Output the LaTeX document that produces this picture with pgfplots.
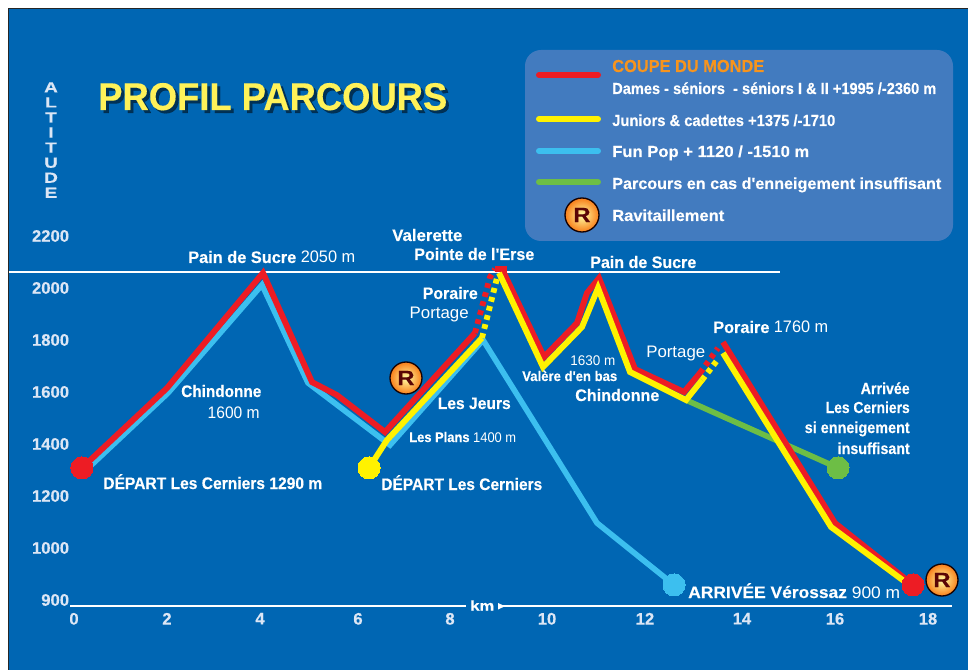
\documentclass[border=0pt]{standalone}
\usepackage{graphicx}
\usepackage{fontspec}
\setmainfont{Liberation Sans}[Ligatures=TeXOff,BoldFeatures={FakeBold=0.25}]
\usepackage{pgfplots}
\pgfplotsset{compat=1.18}
\definecolor{bg}{HTML}{0066B3}
\definecolor{boxc}{HTML}{427BBF}
\definecolor{rd}{HTML}{ED1C24}
\definecolor{yl}{HTML}{FFF200}
\definecolor{cy}{HTML}{3CBFEF}
\definecolor{gn}{HTML}{6DBE45}
\definecolor{ticktxt}{HTML}{DCE6F5}
\definecolor{orng}{HTML}{F7941D}
\definecolor{titley}{HTML}{FFF259}
\definecolor{maroon}{HTML}{5A0505}
\newcommand\sz[1]{\fontsize{#1}{#1}\selectfont}
\newcommand\apo{'}
% \T{x}{baseline y}{anchor}{width px}{size}{text}
\newcommand\T[6]{\node[anchor=base #3,inner sep=0pt,text=white] at (#1,#2) {\resizebox{\dimexpr #4pt*3/4\relax}{\height}{\sz{#5}#6}};}
\newcommand\Rr[3]{%
  \shade[inner color=yellow!35!white,outer color=orng!85!red,draw=black!75!maroon,line width=1pt] (#1,#2) circle (#3);
  \node[inner sep=0pt,text=maroon,xscale=1.15] at (#1,#2) {\sz{15.5}\bfseries R};}
\begin{document}
\begin{tikzpicture}[x=0.75pt,y=-0.75pt]
\path[use as bounding box] (0,0) rectangle (968,670);
\fill[bg] (9,9) rectangle (968,670);
\draw[black!85,line width=0.8pt] (8.5,670)--(8.5,8.5)--(968,8.5);
\fill[boxc,rounded corners=12pt] (525,50) rectangle (953,241);
\begin{axis}[
  at={(52.5pt,-454.5pt)},anchor=south west,scale only axis,
  width=661.5pt,height=285.75pt,
  xmin=-0.084,xmax=18.484,ymin=776.9,ymax=2242.3,
  clip=false,
  axis x line*=bottom,axis y line*=left,
  x axis line style={white,line width=1.5pt,-},
  y axis line style={draw=none},
  major tick length=0pt,
  xtick={0,1.958,3.916,5.979,7.916,9.958,12.02,14.063,16.021,17.979},
  xticklabels={0,2,4,6,8,10,12,14,16,18},
  ytick={800,1000,1200,1400,1600,1800,2000,2200},
  yticklabels={900,1000,1200,1400,1600,1800,2000,2200},
  /pgf/number format/assume math mode=true,
  tick label style={text=ticktxt,font=\sz{12.5}\bfseries},
  yticklabel style={inner sep=0pt,xshift=-0.5pt},
  xticklabel style={inner sep=0pt,yshift=-5pt},
]
% top reference line
\addplot[white,line width=1.5pt] coordinates {(-1.37,2061.5) (14.86,2061.5)};
% Fun Pop
\addplot[cy,line width=4.2pt,line join=miter] coordinates {
 (0.168,1285) (1.979,1596) (3.958,2012) (4.926,1635) (6.653,1396) (8.611,1800) (11.011,1096) (12.632,858)};
% insufficient snow
\addplot[gn,line width=4.2pt] coordinates {(12.884,1569) (16.084,1308)};
% Coupe du monde
\addplot[rd,line width=4.4pt] coordinates {
 (0.168,1308) (1.958,1615) (3.979,2058) (5.011,1638) (5.537,1588) (6.547,1446) (8.442,1827)};
\addplot[rd,line width=4.4pt,dash pattern=on 3.6pt off 3.4pt] coordinates {(8.442,1827) (8.758,2042) (8.863,2073)};
\addplot[rd,line width=4.4pt] coordinates {
 (8.863,2073) (9.116,2073)};
\addplot[rd,line width=4.4pt] coordinates {
 (9.011,2073) (9.895,1735) (10.589,1865) (10.8,1981) (11.053,2038) (11.811,1688) (12.842,1600) (13.179,1673)};
\addplot[rd,line width=4.4pt,dash pattern=on 3.6pt off 3.4pt] coordinates {(13.179,1673) (13.558,1769)};
\addplot[rd,line width=4.4pt] coordinates {(13.663,1792) (16.021,1096) (17.663,858)};
% Juniors
\addplot[yl,line width=4.4pt] coordinates {(6.211,1308) (6.589,1415) (8.589,1808)};
\addplot[yl,line width=4.4pt,dash pattern=on 3.6pt off 3.4pt] coordinates {(8.589,1808) (8.905,2038)};
\addplot[yl,line width=4.4pt] coordinates {
 (8.947,2058) (9.874,1696) (10.695,1850) (11.032,2000) (11.705,1677) (12.884,1569) (13.221,1646)};
\addplot[yl,line width=4.4pt,dash pattern=on 3.6pt off 3.4pt] coordinates {(13.221,1646) (13.579,1731)};
\addplot[yl,line width=4.4pt] coordinates {(13.663,1750) (15.937,1081) (17.642,850)};
% end points
\addplot[only marks,mark=*,mark size=8.25pt,rd,mark options={draw=rd,fill=rd,line width=0pt}] coordinates {(0.168,1308) (17.663,858)};
\addplot[only marks,mark=*,mark size=8.25pt,yl,mark options={draw=yl,fill=yl,line width=0pt}] coordinates {(6.211,1308)};
\addplot[only marks,mark=*,mark size=8.25pt,cy,mark options={draw=cy,fill=cy,line width=0pt}] coordinates {(12.632,858)};
\addplot[only marks,mark=*,mark size=8.25pt,gn,mark options={draw=gn,fill=gn,line width=0pt}] coordinates {(16.084,1308)};
\end{axis}
% km break
\fill[bg] (466,602) rectangle (498,610);
\fill[white] (498,603)--(498,609.5)--(505,606.2)--cycle;
\T{470}{610.5}{west}{24}{10.5}{\bfseries km}
% title
\node[anchor=base west,inner sep=0pt,text=black!65!bg,opacity=.8] at (101,113) {\resizebox{\dimexpr 349pt*3/4\relax}{\height}{\sz{29}\bfseries PROFIL PARCOURS}};
\node[anchor=base west,inner sep=0pt,text=titley] at (98,110) {\resizebox{\dimexpr 349pt*3/4\relax}{\height}{\sz{29}\bfseries PROFIL PARCOURS}};
% altitude
\node[inner sep=0pt,align=center,text=ticktxt,anchor=north,xscale=1.3,font=\fontsize{11}{11.3}\selectfont\bfseries] at (51,82) {A\\L\\T\\I\\T\\U\\D\\E};
% legend
\foreach \yy/\cc in {75/rd,119/yl,151/cy,182/gn}{\draw[\cc,line width=4.5pt,line cap=round] (539,\yy)--(598,\yy);}
\Rr{582}{215}{17}
\T{612}{72}{west}{152}{13}{\bfseries\textcolor{orng}{COUPE DU MONDE}}
\T{612}{94}{west}{324}{12}{\bfseries Dames - séniors~ - séniors I \& II +1995 /-2360 m}
\T{612}{126}{west}{223}{12}{\bfseries Juniors \& cadettes +1375 /-1710}
\T{612}{157}{west}{197}{12}{\bfseries Fun Pop + 1120 / -1510 m}
\T{612}{189}{west}{329}{12}{\bfseries Parcours en cas d\apo enneigement insuffisant}
\T{612}{221}{west}{112}{12}{\bfseries Ravitaillement}
% annotations
\T{188}{263}{west}{167}{12.5}{\textbf{Pain de Sucre} 2050 m}
\T{392}{241}{west}{70}{12.5}{\bfseries Valerette}
\T{414}{260}{west}{120}{12.5}{\bfseries Pointe de l\apo Erse}
\T{590}{268}{west}{106}{12.5}{\bfseries Pain de Sucre}
\T{478}{299}{east}{55}{12.5}{\bfseries Poraire}
\T{469}{319}{east}{59}{12.5}{Portage}
\T{511}{409}{east}{73}{12.5}{\bfseries Les Jeurs}
\T{409}{442}{west}{107}{10.5}{\textbf{Les Plans} 1400 m}
\T{570}{366}{west}{45}{10.5}{1630 m}
\T{522}{381}{west}{95}{10.5}{\bfseries Valère d\apo en bas}
\T{575}{401}{west}{84}{12.5}{\bfseries Chindonne}
\T{646}{358}{west}{59}{12.5}{Portage}
\T{713}{333}{west}{115}{12.5}{\textbf{Poraire} 1760 m}
\T{181}{397}{west}{80}{12.5}{\bfseries Chindonne}
\T{260}{418}{east}{52}{12.5}{1600 m}
\T{103}{489}{west}{219}{12.5}{\textbf{DÉPART Les Cerniers 1290 m}}
\T{381}{490}{west}{161}{12.5}{\bfseries DÉPART Les Cerniers}
\T{688}{598}{west}{212}{12.5}{\textbf{ARRIVÉE Vérossaz} 900 m}
\T{910}{394}{east}{49}{12}{\bfseries Arrivée}
\T{910}{413}{east}{84}{12}{\bfseries Les Cerniers}
\T{910}{433}{east}{105}{12}{\bfseries si enneigement}
\T{910}{454}{east}{72}{12}{\bfseries insuffisant}
\Rr{406}{378}{16}
\Rr{942}{580}{16}
\end{tikzpicture}
\end{document}
